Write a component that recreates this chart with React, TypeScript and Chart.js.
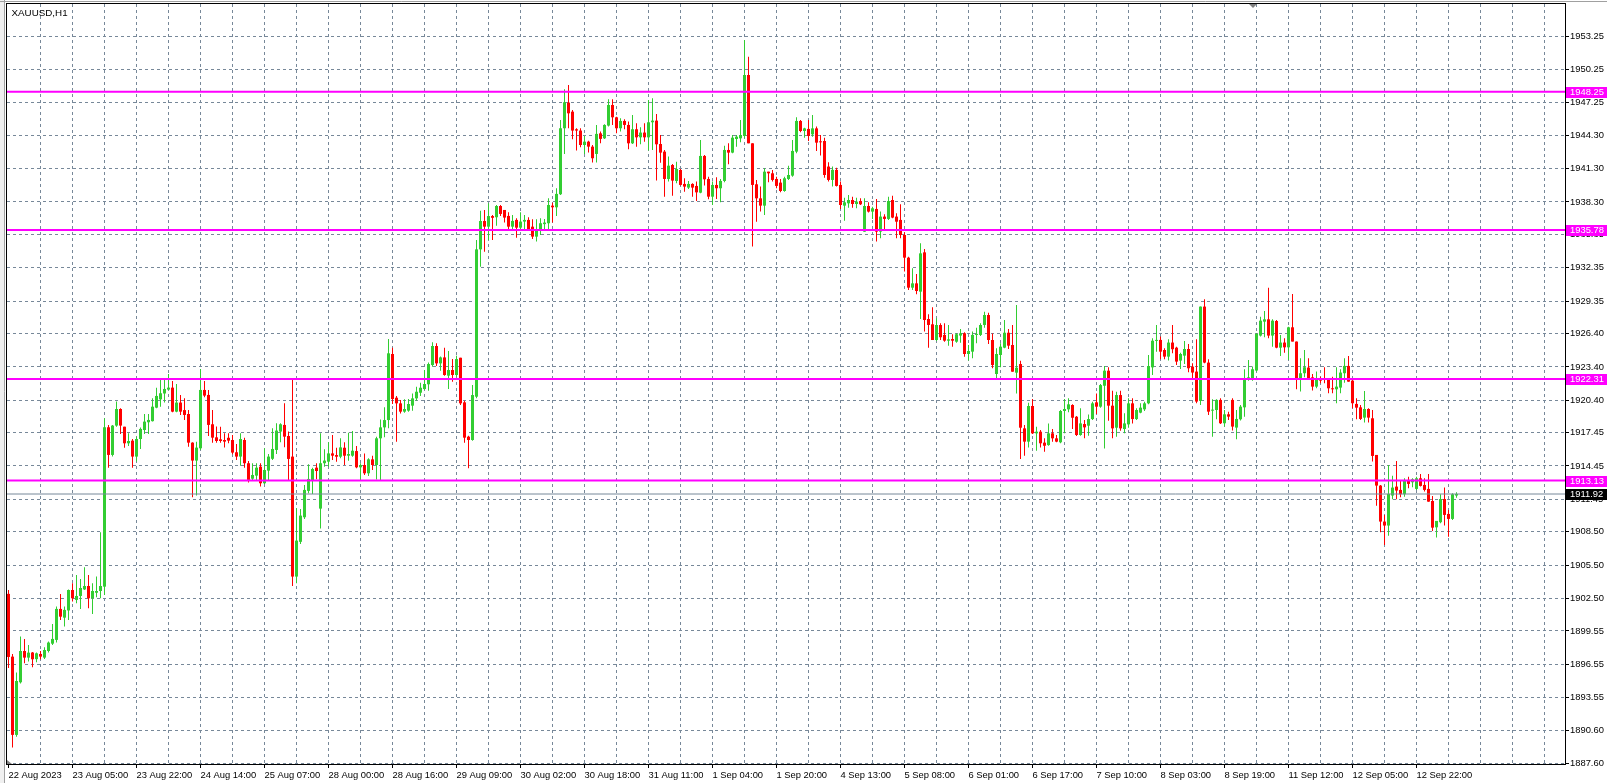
import React, { useEffect, useRef } from "react";
import { Chart, registerables } from "chart.js";

Chart.register(...registerables);

const symbolTitle = "XAUUSD,H1";

const opens = [
  1902.9, 1897.23, 1890.16, 1894.91, 1897.74, 1897.14, 1897.6, 1897.0, 1897.47, 1897.14,
  1897.74, 1898.4, 1898.74, 1901.54, 1900.75, 1901.4, 1903.25, 1902.35, 1902.71, 1903.3,
  1903.61, 1902.5, 1903.0, 1903.16, 1903.55, 1917.95, 1915.45, 1918.1, 1919.6, 1918.0,
  1916.5, 1916.74, 1915.3, 1916.89, 1917.7, 1918.4, 1918.5, 1919.72, 1920.47, 1921.0,
  1921.35, 1921.53, 1919.36, 1920.18, 1919.5, 1919.15, 1916.56, 1914.94, 1916.05, 1921.32,
  1920.87, 1918.22, 1917.04, 1916.86, 1916.8, 1917.0, 1916.8, 1915.69, 1915.3, 1916.8,
  1914.7, 1913.3, 1913.58, 1914.39, 1912.89, 1914.03, 1915.1, 1915.9, 1917.56, 1918.16,
  1917.16, 1915.3, 1904.46, 1907.6, 1909.82, 1912.2, 1913.13, 1914.3, 1910.6, 1914.7,
  1914.84, 1915.59, 1915.44, 1915.29, 1916.1, 1915.38, 1915.38, 1915.8, 1914.33, 1914.54,
  1913.79, 1915.05, 1914.54, 1916.95, 1917.94, 1918.6, 1924.57, 1920.62, 1920.11, 1919.36,
  1919.45, 1919.9, 1920.56, 1921.07, 1921.4, 1921.83, 1923.57, 1925.29, 1923.72, 1924.26,
  1922.61, 1923.12, 1922.67, 1924.23, 1920.2, 1917.1, 1916.8, 1920.71, 1934.02, 1936.58,
  1936.07, 1937.03, 1936.92, 1937.94, 1937.58, 1937.04, 1936.07, 1936.68, 1935.98, 1936.53,
  1936.68, 1936.07, 1935.17, 1935.77, 1936.3, 1936.38, 1937.97, 1937.82, 1939.0, 1944.96,
  1947.28, 1946.46, 1944.87, 1944.75, 1943.45, 1943.75, 1943.3, 1942.64, 1944.5, 1944.05,
  1945.2, 1947.06, 1945.95, 1944.96, 1945.62, 1945.26, 1943.6, 1944.87, 1944.14, 1944.57,
  1944.14, 1945.5, 1945.65, 1943.54, 1942.85, 1940.38, 1941.64, 1940.2, 1941.19, 1939.93,
  1939.6, 1939.93, 1939.75, 1939.14, 1942.46, 1940.38, 1938.78, 1939.84, 1939.54, 1940.2,
  1943.0, 1942.76, 1943.99, 1944.05, 1944.26, 1949.77, 1943.6, 1939.9, 1938.63, 1937.97,
  1941.04, 1940.89, 1940.38, 1940.05, 1939.29, 1940.38, 1940.68, 1942.85, 1945.62, 1944.71,
  1944.9, 1944.41, 1944.95, 1943.75, 1943.81, 1941.5, 1940.29, 1941.2, 1939.84, 1937.97,
  1938.18, 1938.48, 1938.12, 1938.39, 1935.62, 1937.94, 1937.43, 1937.67, 1935.62, 1936.98,
  1936.77, 1938.48, 1936.98, 1936.68, 1935.32, 1933.27, 1930.56, 1930.95, 1930.2, 1933.75,
  1927.73, 1927.25, 1925.83, 1927.19, 1926.29, 1925.77, 1925.92, 1925.68, 1926.23, 1926.44,
  1924.57, 1924.78, 1926.29, 1926.29, 1927.19, 1928.09, 1925.83, 1922.76, 1924.48, 1925.14,
  1926.49, 1925.38, 1922.88, 1923.66, 1917.85, 1916.65, 1919.87, 1917.4, 1917.55, 1916.56,
  1916.34, 1917.4, 1916.95, 1916.59, 1919.42, 1919.57, 1919.96, 1918.9, 1917.25, 1918.24,
  1918.09, 1918.69, 1920.2, 1919.81, 1921.7, 1923.06, 1919.9, 1917.91, 1920.86, 1917.79,
  1918.21, 1920.11, 1918.69, 1919.27, 1919.57, 1920.11, 1923.36, 1925.75, 1925.84, 1924.93,
  1924.33, 1925.6, 1925.14, 1923.97, 1924.42, 1925.02, 1923.43, 1922.98, 1920.33, 1928.85,
  1923.79, 1919.45, 1919.51, 1920.42, 1918.31, 1919.12, 1920.42, 1917.92, 1918.67, 1919.75,
  1922.28, 1922.37, 1923.07, 1926.23, 1927.49, 1927.7, 1926.23, 1927.55, 1925.14, 1925.6,
  1925.17, 1926.98, 1925.69, 1922.31, 1922.83, 1923.34, 1922.46, 1921.62, 1922.37, 1922.37,
  1922.31, 1921.47, 1921.38, 1921.53, 1922.83, 1923.49, 1922.16, 1920.06, 1919.75, 1918.82,
  1919.6, 1918.76, 1915.45, 1912.68, 1909.43, 1909.07, 1911.78, 1912.59, 1912.29, 1911.9,
  1913.19, 1912.98, 1912.38, 1913.34, 1912.74, 1912.38, 1911.29, 1908.91, 1909.37, 1911.47,
  1910.12, 1909.67, 1911.78,
];

const highs = [
  1903.25, 1897.47, 1895.79, 1899.04, 1898.83, 1898.28, 1897.65, 1897.6, 1897.74, 1898.07,
  1898.6, 1900.18, 1901.75, 1902.89, 1901.75, 1903.3, 1903.86, 1904.61, 1904.25, 1905.3,
  1904.61, 1903.86, 1904.46, 1908.46, 1918.76, 1918.16, 1918.16, 1920.27, 1919.66, 1918.0,
  1917.4, 1916.89, 1917.1, 1917.92, 1919.15, 1919.15, 1920.57, 1921.53, 1922.22, 1922.31,
  1922.77, 1922.13, 1921.86, 1920.87, 1920.57, 1919.51, 1916.6, 1916.65, 1923.22, 1922.13,
  1921.32, 1919.51, 1918.01, 1918.0, 1917.4, 1917.4, 1917.25, 1916.44, 1917.4, 1917.01,
  1914.9, 1914.7, 1914.7, 1914.7, 1916.05, 1915.54, 1917.86, 1918.31, 1918.31, 1920.12,
  1917.56, 1922.22, 1910.63, 1910.57, 1912.74, 1914.6, 1914.3, 1914.7, 1917.4, 1915.96,
  1916.59, 1917.25, 1916.1, 1916.95, 1916.59, 1917.46, 1917.61, 1916.25, 1914.69, 1915.59,
  1915.14, 1915.38, 1917.1, 1918.66, 1919.75, 1925.92, 1925.14, 1920.77, 1920.41, 1920.47,
  1920.5, 1921.01, 1921.61, 1921.98, 1923.12, 1923.81, 1925.62, 1925.53, 1924.35, 1925.14,
  1924.84, 1924.11, 1924.41, 1924.23, 1920.35, 1917.19, 1921.77, 1934.86, 1937.51, 1937.57,
  1938.18, 1937.13, 1938.03, 1938.03, 1937.58, 1937.37, 1937.13, 1936.83, 1937.37, 1937.13,
  1936.92, 1936.74, 1936.74, 1936.83, 1936.77, 1938.63, 1938.24, 1939.54, 1945.71, 1948.48,
  1948.87, 1946.61, 1944.96, 1944.96, 1944.26, 1943.84, 1943.45, 1945.26, 1944.66, 1945.32,
  1947.58, 1947.58, 1946.01, 1945.86, 1945.77, 1945.56, 1946.16, 1945.41, 1945.05, 1945.41,
  1947.52, 1947.67, 1946.25, 1944.35, 1943.0, 1942.4, 1941.73, 1941.94, 1941.28, 1940.44,
  1940.2, 1940.0, 1940.14, 1943.9, 1942.55, 1940.59, 1940.14, 1940.53, 1940.38, 1943.39,
  1943.6, 1944.35, 1944.35, 1945.71, 1952.93, 1951.43, 1943.6, 1940.29, 1939.69, 1941.34,
  1941.04, 1941.19, 1940.59, 1940.38, 1940.59, 1941.58, 1943.9, 1945.95, 1945.71, 1945.01,
  1945.71, 1946.16, 1945.11, 1944.35, 1944.11, 1941.9, 1941.5, 1941.4, 1940.14, 1938.69,
  1938.93, 1938.78, 1938.69, 1938.63, 1938.63, 1938.27, 1937.88, 1938.57, 1937.43, 1937.19,
  1938.78, 1938.87, 1937.28, 1938.09, 1935.56, 1933.36, 1932.31, 1931.8, 1934.57, 1934.06,
  1928.15, 1928.79, 1927.79, 1927.34, 1927.34, 1927.19, 1926.35, 1926.44, 1926.83, 1926.53,
  1925.38, 1926.59, 1926.95, 1927.34, 1928.39, 1928.3, 1926.43, 1925.08, 1925.53, 1927.64,
  1926.82, 1927.19, 1929.0, 1923.96, 1918.15, 1920.17, 1920.5, 1918.0, 1917.7, 1916.95,
  1918.3, 1917.79, 1917.25, 1919.51, 1920.5, 1920.56, 1920.02, 1918.96, 1919.66, 1918.6,
  1919.11, 1920.26, 1921.01, 1921.86, 1923.48, 1923.36, 1921.25, 1921.16, 1921.25, 1919.21,
  1920.56, 1920.56, 1919.66, 1920.11, 1920.26, 1924.48, 1925.98, 1927.19, 1926.14, 1925.08,
  1925.9, 1927.19, 1925.23, 1924.69, 1925.75, 1925.47, 1923.73, 1925.9, 1928.85, 1929.51,
  1924.09, 1920.48, 1920.48, 1920.57, 1919.51, 1919.36, 1920.57, 1919.51, 1919.96, 1923.19,
  1924.03, 1923.43, 1926.44, 1927.94, 1928.46, 1930.56, 1927.7, 1927.64, 1926.29, 1925.99,
  1927.04, 1929.99, 1925.69, 1924.18, 1924.93, 1924.18, 1922.77, 1922.98, 1922.52, 1923.37,
  1922.37, 1922.52, 1923.37, 1923.19, 1924.18, 1924.39, 1922.22, 1920.57, 1919.96, 1921.23,
  1919.66, 1919.51, 1915.45, 1912.74, 1910.03, 1914.54, 1913.58, 1914.91, 1913.19, 1913.34,
  1913.49, 1913.34, 1913.49, 1913.73, 1913.34, 1913.73, 1911.74, 1909.49, 1911.9, 1912.5,
  1910.48, 1911.99, 1912.08,
];

const lows = [
  1896.2, 1889.01, 1890.0, 1894.8, 1896.63, 1896.78, 1896.27, 1896.72, 1897.0, 1897.02,
  1897.6, 1898.28, 1898.5, 1900.54, 1899.94, 1900.54, 1902.2, 1902.05, 1901.54, 1903.25,
  1901.6, 1901.09, 1902.59, 1902.5, 1902.8, 1914.3, 1915.3, 1918.0, 1917.35, 1916.1,
  1916.26, 1914.3, 1914.85, 1915.99, 1917.35, 1917.35, 1918.46, 1919.66, 1919.81, 1920.18,
  1921.32, 1919.3, 1919.3, 1919.06, 1918.61, 1916.2, 1911.62, 1911.78, 1915.9, 1920.66,
  1917.16, 1916.56, 1916.56, 1916.56, 1916.11, 1916.5, 1915.51, 1915.0, 1914.48, 1914.3,
  1912.95, 1913.13, 1913.19, 1912.59, 1912.83, 1913.13, 1915.0, 1915.54, 1916.59, 1916.14,
  1913.19, 1903.61, 1903.86, 1907.41, 1909.67, 1911.99, 1911.93, 1913.25, 1908.8, 1914.39,
  1914.39, 1914.99, 1914.84, 1915.14, 1914.54, 1914.93, 1915.29, 1914.24, 1913.18, 1913.64,
  1913.54, 1914.09, 1913.24, 1913.18, 1917.04, 1917.85, 1920.05, 1916.65, 1919.2, 1919.27,
  1919.36, 1919.45, 1920.35, 1920.77, 1921.31, 1921.25, 1923.42, 1923.48, 1923.06, 1922.61,
  1921.4, 1922.07, 1922.52, 1919.96, 1916.56, 1914.24, 1916.74, 1920.56, 1932.45, 1933.81,
  1934.86, 1934.86, 1936.16, 1937.04, 1936.44, 1935.71, 1935.77, 1935.08, 1935.71, 1935.71,
  1935.71, 1934.96, 1934.72, 1935.32, 1935.77, 1935.77, 1936.44, 1937.04, 1938.93, 1942.64,
  1944.96, 1943.96, 1942.94, 1943.24, 1942.64, 1942.76, 1941.86, 1941.86, 1943.6, 1944.0,
  1945.11, 1945.26, 1944.5, 1944.66, 1944.87, 1943.06, 1943.54, 1943.3, 1943.51, 1943.75,
  1942.94, 1943.0, 1940.23, 1941.85, 1938.78, 1940.14, 1938.87, 1939.99, 1939.78, 1939.23,
  1939.48, 1938.78, 1938.39, 1939.08, 1939.78, 1938.54, 1938.03, 1938.57, 1938.27, 1940.08,
  1941.7, 1942.7, 1943.3, 1943.69, 1944.05, 1943.6, 1934.27, 1936.52, 1937.43, 1937.13,
  1940.08, 1940.14, 1939.54, 1939.17, 1939.23, 1940.29, 1940.59, 1942.7, 1944.59, 1944.11,
  1943.81, 1944.2, 1942.91, 1942.49, 1940.5, 1940.14, 1939.69, 1939.69, 1937.67, 1936.61,
  1937.79, 1937.79, 1937.73, 1938.03, 1935.62, 1937.34, 1936.77, 1934.72, 1935.02, 1935.86,
  1936.68, 1936.83, 1935.02, 1935.02, 1932.01, 1930.35, 1930.35, 1929.96, 1927.73, 1926.59,
  1925.14, 1925.83, 1925.74, 1925.83, 1925.68, 1925.32, 1925.23, 1925.59, 1925.59, 1924.33,
  1923.97, 1924.18, 1925.53, 1926.2, 1926.95, 1925.47, 1923.27, 1922.28, 1923.36, 1925.08,
  1925.02, 1922.97, 1921.01, 1915.08, 1915.38, 1916.13, 1917.34, 1915.83, 1916.13, 1915.74,
  1916.28, 1916.65, 1916.59, 1916.5, 1917.4, 1919.3, 1917.79, 1917.16, 1917.19, 1916.95,
  1917.19, 1918.6, 1919.14, 1919.72, 1916.04, 1918.54, 1916.95, 1917.1, 1917.64, 1917.4,
  1917.91, 1918.3, 1918.6, 1919.21, 1919.42, 1920.02, 1922.67, 1924.78, 1924.09, 1924.09,
  1923.97, 1924.63, 1923.58, 1923.22, 1923.67, 1922.92, 1922.22, 1920.12, 1919.96, 1923.73,
  1919.06, 1917.1, 1918.67, 1918.25, 1918.01, 1918.61, 1917.65, 1916.86, 1918.55, 1918.91,
  1922.16, 1922.16, 1922.98, 1926.14, 1926.08, 1925.99, 1925.23, 1925.08, 1924.39, 1924.69,
  1924.03, 1925.69, 1921.38, 1921.17, 1922.46, 1922.37, 1921.26, 1921.47, 1921.92, 1921.92,
  1921.02, 1921.02, 1920.12, 1921.02, 1921.98, 1922.07, 1919.66, 1918.67, 1918.61, 1918.37,
  1918.37, 1914.85, 1910.87, 1908.46, 1907.32, 1908.16, 1911.44, 1911.44, 1911.62, 1911.68,
  1912.44, 1912.53, 1912.29, 1912.59, 1912.14, 1911.23, 1908.58, 1907.98, 1909.28, 1909.07,
  1908.07, 1909.58, 1911.59,
];

const closes = [
  1897.2, 1890.16, 1895.03, 1897.74, 1897.14, 1897.59, 1896.99, 1897.53, 1897.23, 1897.83,
  1898.5, 1898.83, 1901.54, 1900.84, 1901.45, 1903.25, 1902.5, 1902.71, 1903.43, 1903.61,
  1902.5, 1903.16, 1903.16, 1903.61, 1917.95, 1915.45, 1918.1, 1919.6, 1918.1, 1916.5,
  1916.71, 1915.3, 1916.89, 1917.8, 1918.46, 1918.61, 1919.81, 1920.78, 1921.02, 1921.41,
  1921.53, 1919.36, 1920.18, 1919.36, 1919.06, 1916.56, 1914.94, 1916.11, 1921.32, 1920.81,
  1918.16, 1917.01, 1916.71, 1916.71, 1916.65, 1916.74, 1915.66, 1915.3, 1916.89, 1914.7,
  1913.19, 1913.64, 1914.3, 1912.89, 1914.09, 1915.3, 1915.99, 1917.65, 1918.22, 1917.1,
  1915.09, 1904.46, 1907.71, 1909.97, 1912.29, 1913.28, 1914.18, 1914.0, 1914.7, 1914.94,
  1915.59, 1915.38, 1915.29, 1916.13, 1915.38, 1915.53, 1915.83, 1914.33, 1914.54, 1913.79,
  1915.05, 1914.54, 1916.95, 1917.94, 1918.6, 1924.63, 1920.5, 1920.11, 1919.36, 1919.6,
  1920.05, 1920.56, 1921.16, 1921.52, 1921.86, 1923.66, 1925.29, 1923.72, 1924.26, 1922.67,
  1923.12, 1922.67, 1924.11, 1920.11, 1917.01, 1916.8, 1920.86, 1934.02, 1936.58, 1936.07,
  1937.03, 1936.87, 1937.94, 1937.22, 1936.89, 1936.07, 1936.59, 1935.98, 1936.53, 1936.68,
  1935.83, 1935.17, 1935.77, 1936.38, 1936.44, 1938.03, 1937.82, 1939.03, 1944.96, 1947.31,
  1946.31, 1944.75, 1944.75, 1943.45, 1943.75, 1943.3, 1942.25, 1944.45, 1944.0, 1945.26,
  1947.06, 1945.95, 1944.96, 1945.62, 1945.26, 1943.6, 1944.87, 1944.14, 1944.57, 1944.14,
  1945.5, 1945.65, 1943.51, 1942.76, 1940.38, 1941.58, 1940.23, 1941.28, 1939.84, 1939.69,
  1939.93, 1939.6, 1939.17, 1942.46, 1940.35, 1938.78, 1939.84, 1939.54, 1940.2, 1943.0,
  1942.76, 1944.11, 1944.2, 1944.35, 1949.77, 1943.6, 1939.84, 1938.63, 1937.97, 1941.04,
  1940.89, 1940.29, 1939.75, 1939.29, 1940.44, 1940.74, 1942.91, 1945.62, 1944.71, 1944.95,
  1944.26, 1944.95, 1943.66, 1943.69, 1940.74, 1940.29, 1941.2, 1939.75, 1938.03, 1938.27,
  1938.48, 1938.12, 1938.33, 1938.09, 1937.94, 1937.43, 1937.73, 1935.62, 1936.98, 1936.77,
  1938.39, 1936.89, 1936.52, 1935.32, 1933.27, 1930.56, 1930.95, 1930.26, 1933.66, 1927.64,
  1927.19, 1925.83, 1927.19, 1926.08, 1925.77, 1925.89, 1925.77, 1926.35, 1926.44, 1924.57,
  1924.84, 1926.29, 1926.38, 1927.19, 1928.09, 1925.83, 1923.57, 1924.57, 1925.23, 1926.49,
  1925.32, 1922.97, 1923.33, 1917.91, 1916.65, 1919.87, 1917.4, 1917.55, 1916.5, 1916.28,
  1917.4, 1916.95, 1916.65, 1919.42, 1919.6, 1920.02, 1918.81, 1917.25, 1918.3, 1917.94,
  1918.69, 1920.11, 1919.81, 1921.76, 1923.06, 1919.9, 1917.85, 1920.86, 1917.85, 1918.3,
  1920.11, 1918.69, 1919.51, 1919.72, 1920.11, 1923.48, 1925.77, 1925.84, 1924.78, 1924.33,
  1925.6, 1925.0, 1923.88, 1924.57, 1925.02, 1923.28, 1922.89, 1920.27, 1928.85, 1923.79,
  1919.36, 1919.51, 1920.42, 1918.31, 1919.12, 1918.91, 1918.01, 1918.7, 1919.81, 1922.28,
  1922.46, 1923.19, 1926.38, 1927.58, 1927.7, 1926.23, 1927.58, 1925.14, 1925.6, 1925.17,
  1926.98, 1925.69, 1922.31, 1922.83, 1923.37, 1922.37, 1921.62, 1922.37, 1922.16, 1922.28,
  1921.47, 1921.38, 1921.62, 1922.89, 1923.49, 1922.07, 1920.12, 1919.72, 1918.7, 1919.6,
  1918.82, 1915.36, 1912.68, 1909.43, 1909.07, 1911.93, 1912.5, 1912.23, 1911.9, 1913.19,
  1912.83, 1913.25, 1913.34, 1912.65, 1912.29, 1911.23, 1908.88, 1909.49, 1911.47, 1910.03,
  1909.67, 1911.9, 1911.92,
];

const xTickLabels = [
  "22 Aug 2023", "23 Aug 05:00", "23 Aug 22:00", "24 Aug 14:00", "25 Aug 07:00",
  "28 Aug 00:00", "28 Aug 16:00", "29 Aug 09:00", "30 Aug 02:00", "30 Aug 18:00",
  "31 Aug 11:00", "1 Sep 04:00", "1 Sep 20:00", "4 Sep 13:00", "5 Sep 08:00",
  "6 Sep 01:00", "6 Sep 17:00", "7 Sep 10:00", "8 Sep 03:00", "8 Sep 19:00",
  "11 Sep 12:00", "12 Sep 05:00", "12 Sep 22:00",
];

const yTickLabels = [
  "1887.60", "1890.60", "1893.55", "1896.55", "1899.55", "1902.50", "1905.50", "1908.50",
  "1911.45", "1914.45", "1917.45", "1920.40", "1923.40", "1926.40", "1929.35", "1932.35",
  "1935.35", "1938.30", "1941.30", "1944.30", "1947.25", "1950.25", "1953.25",
];

const levelPrices = [1948.25, 1935.78, 1922.31, 1913.13];
const bidPrice = 1911.92;

const BULL = "#32cd32";
const BEAR = "#ff0000";
const GRID = "#778899";
const LEVEL = "#ff00ff";
const FONT_FAMILY = "'Liberation Sans', Arial, sans-serif";
const AXIS_FONT_SIZE = 9.4;
const TITLE_FONT_SIZE = 9.8;

const X_MIN = -0.375;
const X_MAX = 389.125;
const Y_MIN = 1887.53;
const Y_MAX = 1956.185;
const BARS_PER_GRID = 8;
const BARS_PER_LABEL = 16;

function buildConfig(): any {
  const n = Math.min(opens.length, highs.length, lows.length, closes.length);
  const idx = Array.from({ length: n }, (_, i) => i);
  const colors = idx.map((i) => (closes[i] >= opens[i] ? BULL : BEAR));
  const wickData = idx.map((i) => ({ x: i, y: [lows[i], highs[i]] }));
  const bodyData = idx.map((i) => ({ x: i, y: [opens[i], closes[i]] }));
  const lastLabelBar = (xTickLabels.length - 1) * BARS_PER_LABEL;

  const gridTicks: number[] = [];
  for (let v = 0; v <= X_MAX; v += BARS_PER_GRID) gridTicks.push(v);

  const hLine = (p: number, color: string, width: number) => ({
    type: "line",
    data: [
      { x: X_MIN, y: p },
      { x: X_MAX, y: p },
    ],
    borderColor: color,
    borderWidth: width,
    pointRadius: 0,
    fill: false,
    order: 0,
  });

  const overlay = {
    id: "mtOverlay",
    beforeDraw(chart: any) {
      const { ctx } = chart;
      ctx.save();
      ctx.fillStyle = "#ffffff";
      ctx.fillRect(0, 0, chart.width, chart.height);
      ctx.fillStyle = "#f0f0f0";
      ctx.fillRect(0, 0, 5, chart.height);
      ctx.strokeStyle = "#a0a0a0";
      ctx.lineWidth = 1;
      ctx.beginPath();
      ctx.moveTo(4.5, 0);
      ctx.lineTo(4.5, chart.height);
      ctx.moveTo(0, 1.5);
      ctx.lineTo(chart.width, 1.5);
      ctx.stroke();
      ctx.restore();
    },
    afterDraw(chart: any) {
      const { ctx, chartArea: a, scales } = chart;
      const ys = scales.y;
      const xs = scales.x;
      ctx.save();
      ctx.strokeStyle = "#000000";
      ctx.lineWidth = 1;
      ctx.strokeRect(a.left - 0.5, a.top - 0.5, a.right - a.left + 1, a.bottom - a.top + 1);

      ctx.font = `${AXIS_FONT_SIZE}px ${FONT_FAMILY}`;
      ctx.textAlign = "left";
      ctx.textBaseline = "middle";
      const tag = (p: number, bg: string) => {
        const py = Math.round(ys.getPixelForValue(p));
        ctx.fillStyle = bg;
        ctx.fillRect(a.right + 1, py - 5, chart.width - a.right - 1, 11);
        ctx.fillStyle = "#ffffff";
        ctx.fillText(p.toFixed(2), a.right + 5, py + 0.5);
      };
      levelPrices.forEach((p) => tag(p, LEVEL));
      tag(bidPrice, "#000000");

      ctx.font = `${TITLE_FONT_SIZE}px ${FONT_FAMILY}`;
      ctx.fillStyle = "#000000";
      ctx.textBaseline = "alphabetic";
      ctx.fillText(symbolTitle, 11.5, 16);

      // chart shift marker at the top
      const sx = Math.round(xs.getPixelForValue(311));
      ctx.fillStyle = "#808080";
      ctx.beginPath();
      ctx.moveTo(sx - 4, a.top);
      ctx.lineTo(sx + 4, a.top);
      ctx.lineTo(sx, a.top + 4);
      ctx.closePath();
      ctx.fill();

      // small corner marker bottom-left
      ctx.beginPath();
      ctx.moveTo(a.left, a.bottom - 4);
      ctx.lineTo(a.left, a.bottom);
      ctx.lineTo(a.left + 5, a.bottom);
      ctx.closePath();
      ctx.fill();
      ctx.restore();
    },
  };

  return {
    type: "bar",
    data: {
      datasets: [
        ...levelPrices.map((p) => hLine(p, LEVEL, 2)),
        hLine(bidPrice, GRID, 1),
        {
          type: "bar",
          data: wickData,
          backgroundColor: colors,
          barThickness: 1,
          grouped: false,
          inflateAmount: 0,
          borderWidth: 0,
          order: 2,
        },
        {
          type: "bar",
          data: bodyData,
          backgroundColor: colors,
          barThickness: 3,
          grouped: false,
          minBarLength: 1,
          inflateAmount: 0,
          borderWidth: 0,
          order: 1,
        },
      ],
    },
    options: {
      animation: false,
      responsive: false,
      maintainAspectRatio: false,
      devicePixelRatio: 1,
      events: [],
      layout: { padding: { left: 7, top: 4, right: 0, bottom: 0 } },
      plugins: {
        legend: { display: false },
        tooltip: { enabled: false },
        title: { display: false },
      },
      scales: {
        x: {
          type: "linear",
          position: "bottom",
          min: X_MIN,
          max: X_MAX,
          offset: false,
          afterBuildTicks: (s: any) => {
            s.ticks = gridTicks.map((v) => ({ value: v }));
          },
          afterFit: (s: any) => {
            s.height = 19;
            s.paddingLeft = 0;
            s.paddingRight = 0;
            s.paddingTop = 0;
            s.paddingBottom = 0;
          },
          grid: {
            offset: false,
            color: (c: any) => (c.tick && c.tick.value === 0 ? "rgba(0,0,0,0)" : GRID),
            lineWidth: 1,
            drawTicks: true,
            tickLength: 4,
            tickWidth: 1,
            tickColor: (c: any) =>
              c.tick && c.tick.value % BARS_PER_LABEL === 0 && c.tick.value <= lastLabelBar
                ? "#000000"
                : "rgba(0,0,0,0)",
          },
          border: { display: false, dash: [3, 3] },
          ticks: {
            autoSkip: false,
            maxRotation: 0,
            minRotation: 0,
            align: "start",
            padding: 2,
            color: "#000000",
            font: { family: FONT_FAMILY, size: AXIS_FONT_SIZE },
            callback: (_v: any, i: number, ticks: any[]) => {
              const v = ticks[i].value;
              return v % BARS_PER_LABEL === 0 ? xTickLabels[v / BARS_PER_LABEL] ?? "" : "";
            },
          },
        },
        y: {
          type: "linear",
          position: "right",
          min: Y_MIN,
          max: Y_MAX,
          afterBuildTicks: (s: any) => {
            s.ticks = yTickLabels.map((t) => ({ value: parseFloat(t) }));
          },
          afterFit: (s: any) => {
            s.width = 42;
            s.paddingLeft = 0;
            s.paddingRight = 0;
            s.paddingTop = 0;
            s.paddingBottom = 0;
          },
          grid: {
            color: GRID,
            lineWidth: 1,
            drawTicks: true,
            tickLength: 4,
            tickWidth: 1,
            tickColor: "#000000",
          },
          border: { display: false, dash: [3, 3] },
          ticks: {
            autoSkip: false,
            padding: 1,
            color: "#000000",
            font: { family: FONT_FAMILY, size: AXIS_FONT_SIZE },
            callback: (_v: any, i: number) => yTickLabels[i] ?? "",
          },
        },
      },
    },
    plugins: [overlay],
  };
}

export default function App() {
  const ref = useRef<HTMLCanvasElement | null>(null);

  useEffect(() => {
    document.body.style.margin = "0";
    const canvas = ref.current;
    if (!canvas) return;
    const chart = new Chart(canvas, buildConfig());
    return () => {
      chart.destroy();
    };
  }, []);

  return (
    <div style={{ width: 1607, height: 783, position: "relative", background: "#ffffff" }}>
      <canvas
        ref={ref}
        width={1607}
        height={783}
        style={{ display: "block", width: 1607, height: 783 }}
      />
    </div>
  );
}
